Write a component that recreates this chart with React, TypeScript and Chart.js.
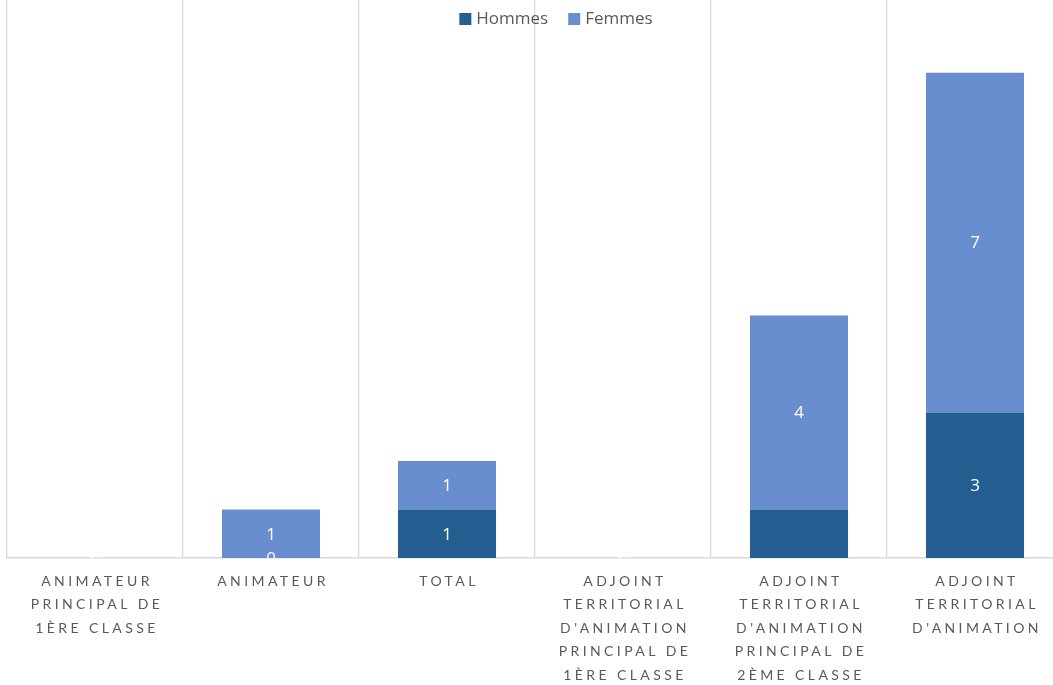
import React, { useEffect, useRef } from "react";
import { Chart, registerables } from "chart.js";

Chart.register(...registerables);

const categories: string[][] = [
  ["ANIMATEUR", "PRINCIPAL DE", "1ÈRE CLASSE"],
  ["ANIMATEUR"],
  ["TOTAL"],
  ["ADJOINT", "TERRITORIAL", "D'ANIMATION", "PRINCIPAL DE", "1ÈRE CLASSE"],
  ["ADJOINT", "TERRITORIAL", "D'ANIMATION", "PRINCIPAL DE", "2ÈME CLASSE"],
  ["ADJOINT", "TERRITORIAL", "D'ANIMATION"],
];
const hommes = [0, 0, 1, 0, 1, 3];
const femmes = [0, 1, 1, 0, 4, 7];
const hommesLabelShown = [true, true, true, true, false, true];
const femmesLabelShown = [true, true, true, true, true, true];
const seriesNames = ["Hommes", "Femmes"];
const seriesColors = ["#255E91", "#698ED0"];

const AXIS_FONT = "Lato, 'Open Sans', sans-serif";
const FONT = "'Open Sans', Lato, sans-serif";

const customDraw = {
  id: "customDraw",
  afterDraw(chart: any) {
    const ctx = chart.ctx as CanvasRenderingContext2D;
    const area = chart.chartArea;
    const xScale = chart.scales.x;

    // data labels
    ctx.save();
    ctx.beginPath();
    ctx.rect(area.left, area.top, area.right - area.left, area.bottom - area.top);
    ctx.clip();
    ctx.fillStyle = "#FFFFFF";
    ctx.font = `17px ${FONT}`;
    ctx.textAlign = "center";
    ctx.textBaseline = "middle";
    const shown = [hommesLabelShown, femmesLabelShown];
    chart.data.datasets.forEach((ds: any, di: number) => {
      const meta = chart.getDatasetMeta(di);
      meta.data.forEach((el: any, i: number) => {
        if (!shown[di][i]) return;
        const cy = (el.y + el.base) / 2 + 1;
        ctx.fillText(String(ds.data[i]), el.x, cy);
      });
    });
    ctx.restore();

    // x labels
    ctx.save();
    ctx.fillStyle = "#595959";
    ctx.font = `14px ${AXIS_FONT}`;
    (ctx as any).letterSpacing = "3.4px";
    ctx.textAlign = "center";
    ctx.textBaseline = "middle";
    categories.forEach((lines, i) => {
      const x = xScale.getPixelForValue(i) + 2;
      lines.forEach((line, li) => {
        ctx.fillText(line, x, area.bottom + 23 + li * 23.6);
      });
    });
    ctx.restore();

    // legend
    ctx.save();
    ctx.font = `17px ${FONT}`;
    ctx.textBaseline = "middle";
    ctx.textAlign = "left";
    const box = 12;
    const gap = 5;
    const itemGap = 20;
    const widths = seriesNames.map((n) => ctx.measureText(n).width);
    const total = widths.reduce((a, w) => a + box + gap + w, 0) + itemGap * (seriesNames.length - 1);
    let x = 556 - total / 2;
    const cy = 19;
    seriesNames.forEach((n, i) => {
      ctx.fillStyle = seriesColors[i];
      ctx.fillRect(x, cy - box / 2, box, box);
      x += box + gap;
      ctx.fillStyle = "#595959";
      ctx.fillText(n, x, cy);
      x += widths[i] + itemGap;
    });
    ctx.restore();
  },
};

export default function App() {
  const ref = useRef<HTMLCanvasElement | null>(null);
  useEffect(() => {
    if (!ref.current) return;
    const chart = new Chart(ref.current, {
      type: "bar",
      data: {
        labels: categories.map((c) => c.join(" ")),
        datasets: [
          {
            label: seriesNames[0],
            data: hommes,
            backgroundColor: seriesColors[0],
            barPercentage: 0.557,
            categoryPercentage: 1,
          },
          {
            label: seriesNames[1],
            data: femmes,
            backgroundColor: seriesColors[1],
            barPercentage: 0.557,
            categoryPercentage: 1,
          },
        ],
      },
      options: {
        responsive: false,
        animation: false,
        devicePixelRatio: 1,
        layout: { padding: { left: 7, right: 0, top: 0, bottom: 0 } },
        plugins: {
          legend: { display: false },
          tooltip: { enabled: false },
        },
        scales: {
          x: {
            stacked: true,
            offset: true,
            grid: {
              display: true,
              offset: true,
              color: "#D9D9D9",
              lineWidth: 1.3,
              drawTicks: false,
            },
            border: { display: true, color: "#D9D9D9", width: 1.5 },
            ticks: { display: false },
            afterFit: (s: any) => {
              s.height = 127;
            },
          },
          y: {
            stacked: true,
            display: false,
            min: 0,
            max: 11.5,
          },
        },
      },
      plugins: [customDraw],
    });
    return () => chart.destroy();
  }, []);
  return (
    <div
      style={{
        position: "fixed",
        left: 0,
        top: 0,
        width: 1053,
        height: 685,
        overflow: "hidden",
        background: "#FFFFFF",
      }}
    >
      <canvas ref={ref} width={1063} height={685} style={{ display: "block" }} />
    </div>
  );
}
